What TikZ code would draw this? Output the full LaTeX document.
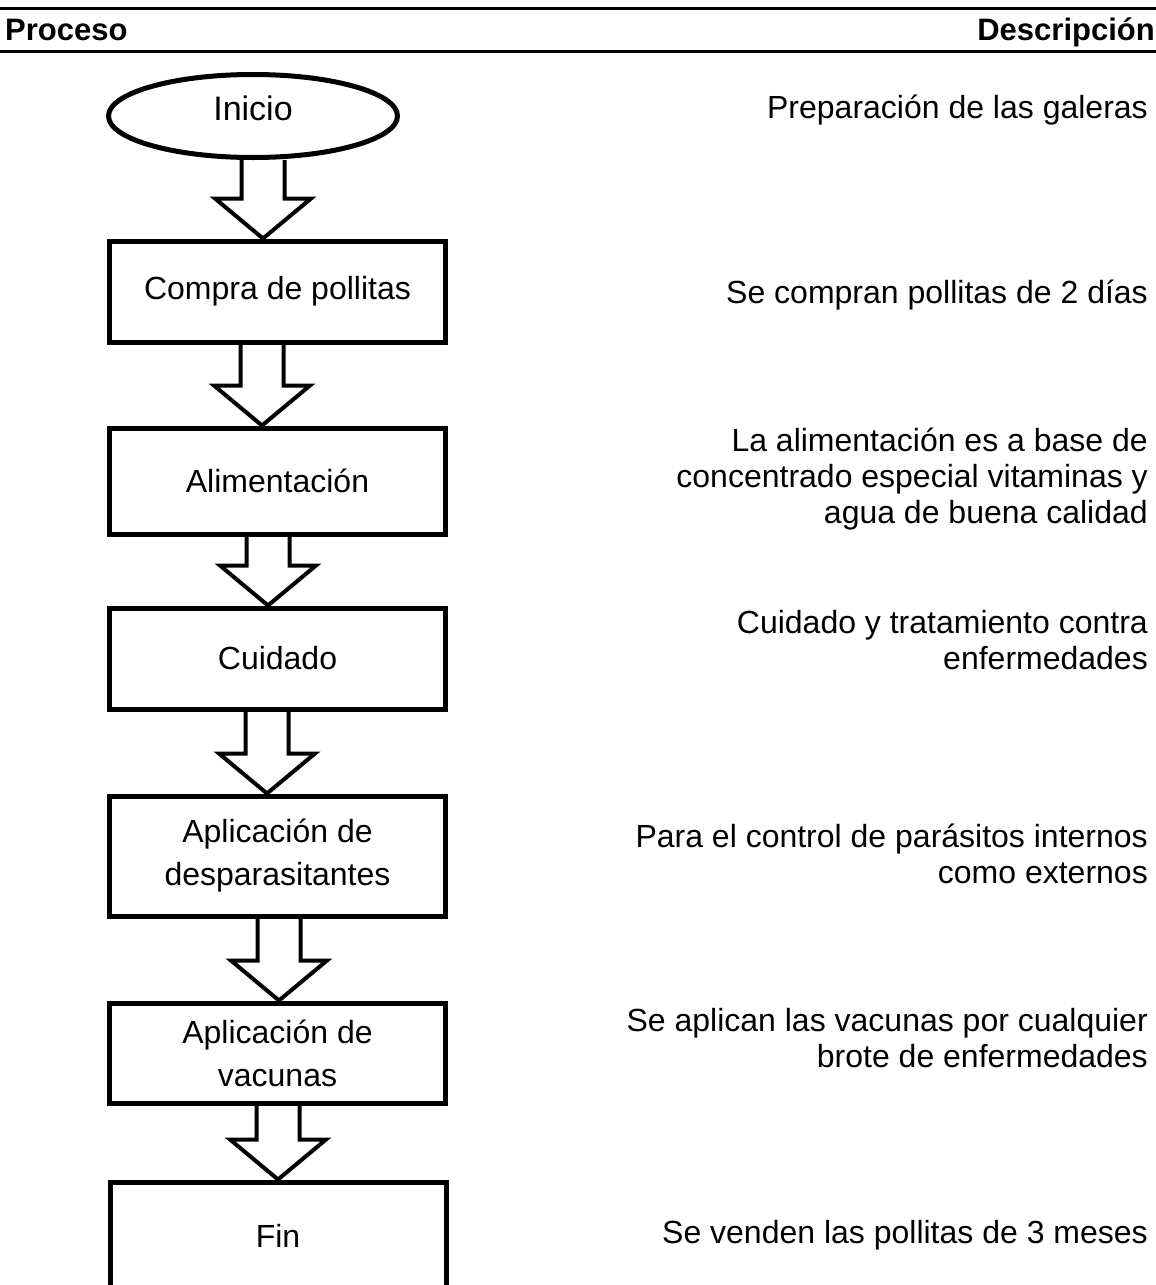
\documentclass[tikz,border=0pt]{standalone}
\usepackage{fontspec}
\setmainfont{Liberation Sans}
\usetikzlibrary{shapes.geometric,calc}
\newcommand{\flowarrow}[3]{%
  \draw[flow] let \p1=(#1.south), \p2=(#2.north) in
    (#3pt-21.5pt,\y1) -- (#3pt-21.5pt,\y2+40pt) -- (#3pt-48pt,\y2+40pt) --
    (#3pt,\y2) -- (#3pt+48pt,\y2+40pt) -- (#3pt+21.5pt,\y2+40pt) -- (#3pt+21.5pt,\y1);}
\begin{document}
\begin{tikzpicture}[x=1pt,y=-1pt,
  box/.style={draw, line width=5pt, minimum width=336pt, inner sep=0pt, align=center,
              font=\fontsize{32}{43}\selectfont},
  startshape/.style={draw, ellipse, line width=5pt, minimum width=289pt, minimum height=83pt, inner sep=0pt},
  desc/.style={anchor=base east, align=right, inner sep=0pt, font=\fontsize{32}{36}\selectfont},
  headtxt/.style={inner sep=0pt, font=\bfseries\fontsize{31}{36}\selectfont},
  rulel/.style={line width=3pt},
  flow/.style={draw, line width=4pt, line join=miter},
]
\fill[white] (0,0) rectangle (1156,1285);
\useasboundingbox (0,0) rectangle (1156,1285);

% header
\coordinate (r1a) at (0,8.5);
\coordinate (r1b) at (1156,8.5);
\coordinate (r2a) at (0,51);
\coordinate (r2b) at (1156,51);
\draw[rulel] (r1a) -- (r1b);
\draw[rulel] (r2a) -- (r2b);
\node[headtxt, anchor=base west] (hp) at (5,40) {Proceso};
\node[headtxt, anchor=base east] (hd) at (1155,40) {Descripción};

% process column
\node[startshape] (s0) at (253,116) {};
\node[inner sep=0pt, font=\fontsize{34}{40}\selectfont] (s0t) at (253,108) {Inicio};
\node[box, minimum height=101pt] (b1) at (277.5,291.5) {Compra de pollitas};
\node[box, minimum height=106pt] (b2) at (277.5,481) {Alimentación};
\node[box, minimum height=101pt] (b3) at (277.5,658.5) {Cuidado};
\node[box, minimum height=120pt] (b4) at (277.5,856) {Aplicación de\\desparasitantes};
\node[box, minimum height=100pt] (b5) at (277.5,1053) {Aplicación de\\vacunas};
\node[box, minimum height=108pt] (b6) at (278,1236) {Fin};

\flowarrow{s0}{b1}{263}
\flowarrow{b1}{b2}{262}
\flowarrow{b2}{b3}{268}
\flowarrow{b3}{b4}{267}
\flowarrow{b4}{b5}{279}
\flowarrow{b5}{b6}{278}

% description column (base = baseline of the last line)
\node[desc] (d0) at (1148,118) {Preparación de las galeras};
\node[desc] (d1) at (1148,303) {Se compran pollitas de 2 días};
\node[desc] (d2) at (1148,523) {La alimentación es a base de\\concentrado especial vitaminas y\\agua de buena calidad};
\node[desc] (d3) at (1148,669) {Cuidado y tratamiento contra\\enfermedades};
\node[desc] (d4) at (1148,883) {Para el control de parásitos internos\\como externos};
\node[desc] (d5) at (1148,1067) {Se aplican las vacunas por cualquier\\brote de enfermedades};
\node[desc] (d6) at (1148,1243) {Se venden las pollitas de 3 meses};
\end{tikzpicture}
\end{document}
